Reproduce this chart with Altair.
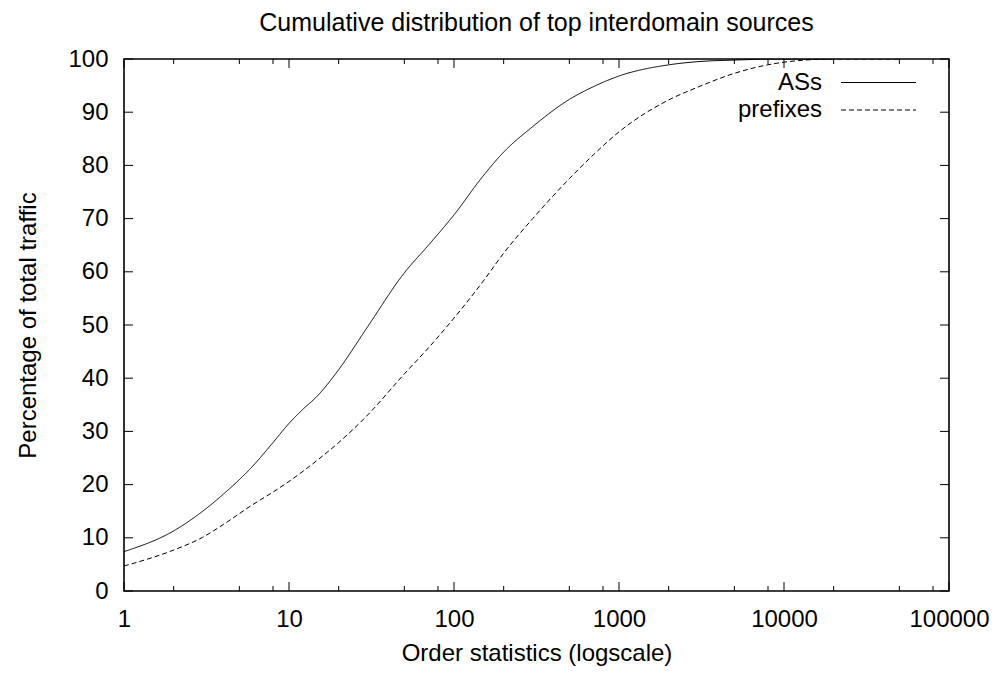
import altair as alt
import pandas as pd

# ---- data ----
as_rank = [1, 2, 3, 4, 6, 8, 10, 12, 15, 20, 30, 50, 70, 100, 150, 200, 300, 500, 700, 1000, 2000, 3000, 5000, 10000, 20000]
as_pct = [7.4, 11.3, 15.0, 18.2, 23.4, 27.9, 31.5, 34.0, 36.8, 41.6, 49.7, 59.8, 65.0, 70.7, 78.0, 82.5, 87.3, 92.4, 94.8, 96.8, 98.9, 99.5, 99.8, 100.0, 100.0]

pfx_rank = [1, 2, 3, 4, 6, 8, 10, 15, 20, 30, 50, 70, 100, 150, 200, 300, 500, 700, 1000, 2000, 3000, 5000, 10000, 20000, 50000]
pfx_pct = [4.7, 7.7, 10.1, 12.5, 16.2, 18.6, 20.6, 24.7, 27.9, 33.1, 40.8, 45.7, 51.3, 58.2, 63.5, 70.0, 77.5, 82.0, 86.3, 92.3, 94.7, 97.3, 99.4, 100.0, 100.0]

series_names = ["ASs", "prefixes"]

x_major = [1, 10, 100, 1000, 10000, 100000]
x_minor = [2, 5, 8, 20, 50, 80, 200, 500, 800, 2000, 5000, 8000, 20000, 50000, 80000]
y_ticks = [0, 10, 20, 30, 40, 50, 60, 70, 80, 90, 100]

title_text = "Cumulative distribution of top interdomain sources"
x_title = "Order statistics (logscale)"
y_title = "Percentage of total traffic"

# ---- layout ----
W, H = 825, 532
FONT = "Liberation Sans"
FS = 24
MAJ, MIN = 9, 5

xs = alt.Scale(type="log", domain=[1, 100000], nice=False)
ys = alt.Scale(domain=[0, 100], nice=False)

x_axis = alt.Axis(values=x_major, format="d", title=x_title, labelFlush=False,
                  labelOverlap=False, labelPadding=16, titlePadding=10)
y_axis = alt.Axis(values=y_ticks, title=y_title, labelPadding=16, titlePadding=27)

df = pd.DataFrame({
    "rank": as_rank + pfx_rank,
    "pct": as_pct + pfx_pct,
    "series": [series_names[0]] * len(as_rank) + [series_names[1]] * len(pfx_rank),
})

lines = alt.Chart(df).mark_line(color="black", strokeWidth=1, interpolate="monotone", clip=True).encode(
    x=alt.X("rank:Q", scale=xs, axis=x_axis),
    y=alt.Y("pct:Q", scale=ys, axis=y_axis),
    strokeDash=alt.StrokeDash("series:N", scale=alt.Scale(domain=series_names, range=[[1, 0], [5, 3]]), legend=None),
    detail="series:N",
)

xmaj_df = pd.DataFrame({"rank": x_major})
xmin_df = pd.DataFrame({"rank": x_minor})
y_df = pd.DataFrame({"pct": y_ticks})

def xticks(d, length):
    bottom = alt.Chart(d).mark_rule(color="black", strokeWidth=1).encode(
        x=alt.X("rank:Q", scale=xs, axis=x_axis), y=alt.value(H), y2=alt.value(H - length))
    top = alt.Chart(d).mark_rule(color="black", strokeWidth=1).encode(
        x=alt.X("rank:Q", scale=xs, axis=x_axis), y=alt.value(0), y2=alt.value(length))
    return [bottom, top]

yleft = alt.Chart(y_df).mark_rule(color="black", strokeWidth=1).encode(
    y=alt.Y("pct:Q", scale=ys, axis=y_axis), x=alt.value(0), x2=alt.value(MAJ))
yright = alt.Chart(y_df).mark_rule(color="black", strokeWidth=1).encode(
    y=alt.Y("pct:Q", scale=ys, axis=y_axis), x=alt.value(W), x2=alt.value(W - MAJ))

# ---- key (gnuplot style: label left, sample right) ----
key_layers = []
key_y = [23.5, 51]
key_dash = [[1, 0], [5, 3]]
for name, ky, dash in zip(series_names, key_y, key_dash):
    kd = pd.DataFrame({"label": [name]})
    key_layers.append(
        alt.Chart(kd).mark_text(align="right", baseline="middle", font=FONT, fontSize=FS, color="black").encode(
            text="label:N", x=alt.value(698), y=alt.value(ky)))
    key_layers.append(
        alt.Chart(kd).mark_rule(color="black", strokeWidth=1, strokeDash=dash).encode(
            x=alt.value(717), x2=alt.value(792), y=alt.value(ky)))

chart = alt.layer(
    lines, *xticks(xmaj_df, MAJ), *xticks(xmin_df, MIN), yleft, yright, *key_layers
).properties(
    width=W, height=H,
    title=alt.TitleParams(title_text, font=FONT, fontSize=25, fontWeight="normal", color="black",
                          anchor="middle", offset=11),
    autosize=alt.AutoSizeParams(type="none"),
    padding={"left": 116, "top": 51, "right": 41, "bottom": 75},
    background="white",
).configure_view(
    stroke="black", strokeWidth=1.6
).configure_axis(
    domain=False, ticks=False, grid=False,
    labelFont=FONT, labelFontSize=FS, labelColor="black",
    titleFont=FONT, titleFontSize=FS, titleColor="black", titleFontWeight="normal",
)

chart.save("out.html", embed_options={"renderer": "svg", "actions": False})
